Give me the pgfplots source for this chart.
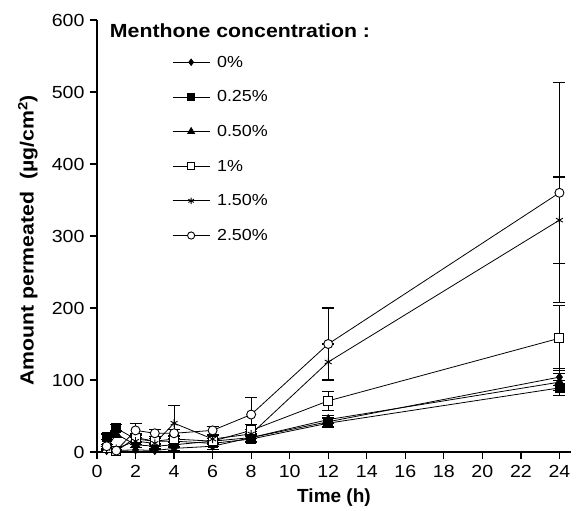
\documentclass[border=0pt]{standalone}
\usepackage{fontspec}
\setmainfont{Liberation Sans}
\newfontfamily\widesans[FakeStretch=1.12]{Liberation Sans}
\usepackage{pgfplots}
\pgfplotsset{compat=1.18}
\usepackage{pgfplotstable}

% time (h), amount (ug/cm2), sd
\pgfplotstableread{
t y e
0.5 2 2
1 2 2
2 3 3
3 2 3
4 5 3
6 8 4
8 20 5
12 42 6
24 104 12
}\zero
\pgfplotstableread{
t y e
0.5 21 4
1 33 5
2 18 5
3 15 4
4 15 4
6 12 4
8 18 5
12 40 6
24 89 10
}\qtr
\pgfplotstableread{
t y e
0.5 5 3
1 25 5
2 10 4
3 8 4
4 10 4
6 15 4
8 20 5
12 45 6
24 97 12
}\half
\pgfplotstableread{
t y e
0.5 5 3
1 1 2
2 20 5
3 15 4
4 18 5
6 15 4
8 30 8
12 71 13
24 158 45
}\one
\pgfplotstableread{
t y e
0.5 5 3
1 5 3
2 15 5
3 12 4
4 40 25
6 18 5
8 25 6
12 125 25
24 322 60
}\onehalf
\pgfplotstableread{
t y e
0.5 8 3
1 2 2
2 30 10
3 26 5
4 26 5
6 30 6
8 52 24
12 150 50
24 360 153
}\twohalf

\begin{document}
\begin{tikzpicture}
\begin{axis}[
  scale only axis,
  width=474pt, height=432pt,
  xmin=0, xmax=24.6, ymin=0, ymax=600,
  axis x line=bottom, axis y line=left,
  axis line style={-, line width=1.3pt},
  tick align=outside,
  major tick length=7pt,
  tick style={line width=1.2pt, black},
  xtick={0,2,...,24}, ytick={0,100,...,600},
  /pgf/number format/assume math mode=true,
  tick label style={font=\widesans\fontsize{17.5}{19}\selectfont},
  xticklabel style={yshift=-3pt},
  yticklabel style={xshift=-2pt},
  xlabel={\textbf{Time (h)}},
  ylabel={\widesans\bfseries Amount permeated\ \ (µg/cm\textsuperscript{2})},
  label style={font=\fontsize{19}{21}\selectfont},
  xlabel style={at={(rel axis cs:0.5,-0.1065)}, anchor=center},
  ylabel style={at={(rel axis cs:-0.1456,0.49)}, anchor=center},
  clip=false,
  error bars/y dir=both, error bars/y explicit,
  error bars/error bar style={solid, black, line width=1.1pt},
  error bars/error mark options={solid, black, rotate=90, mark size=6pt, line width=1.1pt},
  legend image code/.code={\draw[mark repeat=2,mark phase=2,#1,every mark/.append style={scale=0.8}] plot coordinates {(0pt,0pt)(18.5pt,0pt)(37pt,0pt)}; \path (42pt,0pt);},
  legend style={draw=none, fill=none, at={(rel axis cs:0.152,0.9266)}, anchor=north west,
    font=\widesans\fontsize{16}{18}\selectfont, row sep=18pt, cells={anchor=west}},
]
  \addplot[black, line width=0.8pt, mark=diamond*, mark size=4pt, mark options={solid, fill=black}] table[x=t,y=y,y error=e] {\zero};
  \addlegendentry{0\%}
  \addplot[black, line width=0.8pt, mark=square*, mark size=4.5pt, mark options={solid, fill=black}] table[x=t,y=y,y error=e] {\qtr};
  \addlegendentry{0.25\%}
  \addplot[black, line width=0.8pt, mark=triangle*, mark size=5pt, mark options={solid, fill=black}] table[x=t,y=y,y error=e] {\half};
  \addlegendentry{0.50\%}
  \addplot[black, line width=0.8pt, mark=square*, mark size=4.5pt, mark options={solid, fill=white, draw=black, line width=0.9pt}] table[x=t,y=y,y error=e] {\one};
  \addlegendentry{1\%}
  \addplot[black, line width=0.8pt, mark=asterisk, mark size=4pt, mark options={solid, line width=0.9pt}] table[x=t,y=y,y error=e] {\onehalf};
  \addlegendentry{1.50\%}
  \addplot[black, line width=0.8pt, mark=*, mark size=4.5pt, mark options={solid, fill=white, draw=black, line width=0.9pt}] table[x=t,y=y,y error=e] {\twohalf};
  \addlegendentry{2.50\%}
  \node[anchor=west, inner sep=0pt, font=\widesans\bfseries\fontsize{19}{21}\selectfont] at (rel axis cs:0.027,0.976) {Menthone concentration :};
  \coordinate (bl) at (rel axis cs:0,0);
  \coordinate (tr) at (rel axis cs:1,1);
\end{axis}
\pgfresetboundingbox
\path[use as bounding box] ([shift={(-97pt,-59pt)}]bl) rectangle ([shift={(5pt,20pt)}]tr);
\end{tikzpicture}
\end{document}
